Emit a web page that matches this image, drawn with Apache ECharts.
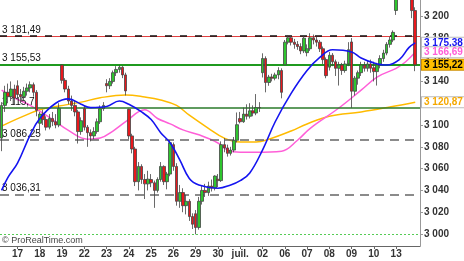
<!DOCTYPE html>
<html>
<head>
<meta charset="utf-8">
<script src="https://cdn.jsdelivr.net/npm/echarts@6/dist/echarts.min.js"></script>
<style>
  html, body { margin: 0; padding: 0; background: #fff; }
  #chart { width: 464px; height: 261px; }
</style>
</head>
<body>
<div id="chart"></div>
<script>
// day labels and the slot where each trading day starts (hourly bars)
const dayLabels = ['16', '17', '18', '19', '22', '23', '24', '25', '26', '29', '30', 'juil.', '02', '06', '07', '08', '09', '10', '13']
const dayStarts = [0, 5, 12, 19, 26, 33, 40, 47, 54, 61, 68, 75, 82, 89, 96, 103, 110, 117, 124]
const slotCount = 132

// [open, close, low, high]
const candles = [
  // 16
  [3088, 3118, 3076, 3121], [3118, 3130, 3112, 3136], [3130, 3126, 3120, 3138], [3126, 3133, 3122, 3140], [3133, 3124.7, 3119, 3137],
  // 17
  [3136, 3128, 3124, 3141], [3128, 3126, 3120, 3133], [3126, 3131, 3122, 3135], [3131, 3134, 3127, 3138], [3134, 3137, 3130, 3140], [3137, 3130, 3126, 3139], [3130, 3113.5, 3108, 3132],
  // 18
  [3101.6, 3110, 3093.5, 3112], [3110, 3105, 3100, 3114], [3105, 3098, 3095, 3108], [3098, 3106, 3096, 3110], [3106, 3103, 3099, 3112], [3103, 3100, 3097, 3110], [3100, 3115.3, 3098, 3120],
  // 19
  [3155, 3141, 3138, 3155.5], [3141, 3133, 3130, 3143], [3133, 3122, 3119, 3136], [3122, 3118, 3113, 3127], [3118, 3112, 3108, 3122], [3112, 3094, 3083, 3114], [3094, 3104, 3091, 3107],
  // 22
  [3115, 3098, 3095, 3118], [3098, 3093, 3080, 3100], [3093, 3090, 3085, 3096], [3090, 3094, 3087, 3098], [3094, 3103, 3092, 3106], [3103, 3115, 3101, 3118], [3115, 3118, 3113, 3121],
  // 23
  [3138, 3136, 3130, 3142], [3136, 3140, 3133, 3143], [3140, 3148, 3138, 3150], [3148, 3151, 3145, 3154], [3151, 3153, 3148, 3154.9], [3153, 3146, 3143, 3154], [3146, 3131.3, 3127.1, 3148],
  // 24
  [3114.4, 3090, 3087, 3115], [3090, 3078, 3074, 3092], [3078, 3048, 3044, 3080], [3048, 3062, 3040, 3066], [3062, 3050, 3046, 3064], [3050, 3046, 3032.1, 3055], [3046, 3050.3, 3040, 3058],
  // 25
  [3050, 3047, 3043, 3055], [3047, 3040, 3024, 3049], [3040, 3050, 3038, 3052], [3050, 3062, 3048, 3066], [3062, 3048, 3045, 3063], [3048, 3055, 3041, 3057], [3055, 3083.8, 3053, 3086.2],
  // 26
  [3082, 3062, 3058, 3084], [3062, 3030, 3026, 3065], [3030, 3038, 3024, 3045], [3038, 3026, 3020, 3042], [3026, 3030, 3018, 3036], [3030, 3016, 3012, 3032], [3016, 3009, 3004.6, 3019],
  // 29
  [3018.6, 3006, 2999.7, 3022], [3006, 3030, 3004, 3034], [3030, 3040, 3027, 3044], [3040, 3038, 3034, 3046], [3038, 3044, 3035, 3048], [3044, 3042, 3039, 3050], [3042, 3053.2, 3040, 3053.9],
  // 30
  [3050.2, 3049, 3043, 3055], [3049, 3082, 3047.8, 3085], [3082, 3079, 3075, 3088], [3079, 3074, 3071, 3082], [3074, 3077, 3072, 3080], [3077, 3086, 3075, 3089], [3086, 3100.3, 3084, 3111.5],
  // juil. 01
  [3105.9, 3103, 3101.5, 3112], [3103, 3110, 3102, 3116], [3110, 3108, 3105, 3119], [3108, 3113, 3106, 3120], [3113, 3111, 3108, 3118], [3111, 3116, 3109, 3128.4], [3116, 3115.9, 3112, 3121],
  // 02
  [3148, 3161, 3143.6, 3165.8], [3161, 3139, 3130, 3163], [3139, 3144, 3136, 3146], [3144, 3143, 3140, 3147], [3143, 3146, 3141, 3148], [3146, 3150, 3142, 3153], [3150, 3130, 3124.5, 3152],
  // 06
  [3155.3, 3176, 3155.3, 3178], [3176, 3180, 3174, 3182.6], [3180, 3176, 3173, 3182], [3176, 3174, 3170, 3179], [3174, 3172, 3169, 3177], [3172, 3168, 3165, 3175], [3168, 3179.7, 3166, 3182],
  // 07
  [3166.4, 3170, 3163, 3174], [3170, 3180, 3168, 3184.2], [3180, 3178, 3174, 3183], [3178, 3176, 3172, 3181], [3176, 3170, 3167, 3178], [3170, 3160, 3156, 3172], [3160, 3145.3, 3142.9, 3162],
  // 08
  [3153.1, 3164, 3150, 3167], [3164, 3158, 3154, 3166], [3158, 3152, 3145, 3160], [3152, 3155, 3136.2, 3158], [3155, 3150, 3146, 3157], [3150, 3156, 3148, 3159], [3156, 3169.1, 3154, 3176],
  // 09
  [3176.2, 3131, 3115.7, 3179.8], [3131, 3143, 3127, 3145], [3143, 3148, 3137, 3150], [3148, 3155, 3145, 3158], [3155, 3152, 3149, 3158], [3152, 3156, 3149, 3159], [3156, 3152.1, 3148, 3160],
  // 10
  [3152.5, 3149, 3140, 3158], [3149, 3155, 3136.2, 3157], [3155, 3161, 3152, 3164], [3161, 3166, 3158, 3169], [3166, 3174, 3164, 3176], [3174, 3178, 3171, 3181], [3178, 3185, 3176, 3186.8],
  // 13
  [3205.1, 3218, 3201, 3222], [3218, 3226, 3216, 3230], [3226, 3233, 3222, 3235.3], [3233, 3228, 3224, 3235], [3228, 3222, 3218, 3230], [3222, 3205, 3198, 3224], [3205, 3155.22, 3149.4, 3208]
]

// moving averages read at a few slots: [slot, value]
const maBlue = [
  [0, 3040], [2, 3052], [5, 3065], [9, 3091], [12, 3106], [17, 3120], [21, 3124], [25, 3119], [28, 3116], [33, 3117], [37, 3122],
  [40, 3119], [44, 3112], [47, 3105], [50, 3093], [53, 3083.5], [56, 3068], [59, 3051], [62, 3045], [68, 3042], [72, 3045],
  [75, 3049], [78, 3056], [82, 3077], [86, 3103], [91, 3129], [96, 3150], [100, 3162], [104, 3169], [110, 3167], [113, 3161.5],
  [117, 3157], [121, 3155], [125, 3160], [128, 3171], [130, 3175.38]
]
const maPink = [
  [0, 3132], [4, 3125], [9, 3118], [16, 3105], [21, 3095], [27, 3087], [31, 3088], [35, 3094.5], [39, 3103], [45, 3114],
  [49, 3106], [53, 3101], [57, 3095.5], [62, 3091], [68, 3083.5], [71, 3077], [75, 3075], [80, 3075], [88, 3076], [93, 3086],
  [97, 3097], [106, 3115.6], [113, 3132], [118, 3144], [124, 3152], [127, 3158], [130, 3166.69]
]
const maOrange = [
  [0, 3099], [6, 3107], [12, 3114], [18, 3117.4], [25, 3121], [31, 3125], [39, 3127.5], [45, 3125.7], [50, 3123], [55, 3118],
  [59, 3109], [65, 3097], [70, 3088], [75, 3084.5], [80, 3084.5], [84, 3087], [91, 3094.5], [96, 3101], [103, 3108], [113, 3112],
  [122, 3116.5], [130, 3120.87]
]

// horizontal levels
const levels = [3181.49, 3155.53, 3115.7, 3086.25, 3036.31]
const levelTexts = ['3 181,49', '3 155,53', '3 115,7', '3 086,25', '3 036,31']
const lastClose = 3155.22

const categories = []
for (let i = 0; i < slotCount; i++) {
  let d = 0
  while (d + 1 < dayStarts.length && dayStarts[d + 1] <= i) d++
  categories.push(dayLabels[d] + '|' + (i - dayStarts[d]))
}

const fmtPrice = v => {
  const s = v.toFixed(2).replace('.', ',')
  return s.slice(0, 1) + ' ' + s.slice(1)
}
const fmtTick = v => Math.floor(v / 1000) + ' ' + String(Math.round(v % 1000)).padStart(3, '0')

const isDayStart = i => dayStarts.indexOf(i) > 0

const leftLabel = text => ({
  show: true,
  position: 'insideStartTop',
  formatter: text,
  color: '#111',
  fontSize: 10,
  fontFamily: 'Liberation Sans, Arial, sans-serif',
  distance: [2, 1]
})

const priceTag = (value, color, bg, border) => ({
  yAxis: value,
  lineStyle: { color: 'rgba(0,0,0,0)', width: 0 },
  label: {
    show: true,
    position: 'end',
    distance: 2,
    formatter: fmtPrice(value),
    color: color,
    backgroundColor: bg,
    borderColor: border,
    borderWidth: 1,
    padding: [0, 2, 0, 2],
    lineHeight: 10,
    fontSize: 10,
    fontWeight: 'bold',
    fontFamily: 'Liberation Sans, Arial, sans-serif'
  }
})

const chart = echarts.init(document.getElementById('chart'))

const option = {
  animation: false,
  backgroundColor: '#fff',
  grid: { left: 0, right: 44, top: 0, bottom: 15 },
  xAxis: {
    type: 'category',
    data: categories,
    boundaryGap: true,
    axisLine: { lineStyle: { color: '#666' } },
    axisTick: { show: true, interval: isDayStart, alignWithLabel: true, length: 3, lineStyle: { color: '#666' } },
    axisLabel: {
      interval: isDayStart,
      formatter: v => v.split('|')[0],
      color: '#333',
      fontSize: 10,
      fontWeight: 'bold',
      fontFamily: 'Liberation Sans, Arial, sans-serif',
      margin: 3
    },
    splitLine: { show: false }
  },
  yAxis: {
    type: 'value',
    position: 'right',
    min: 2989,
    max: 3214.7,
    splitNumber: 11,
    axisLine: { show: true, lineStyle: { color: '#999' } },
    axisTick: { show: true, length: 3, lineStyle: { color: '#999' } },
    axisLabel: {
      showMinLabel: false,
      showMaxLabel: false,
      formatter: fmtTick,
      color: '#333',
      fontSize: 10,
      fontWeight: 'bold',
      fontFamily: 'Liberation Sans, Arial, sans-serif',
      margin: 4
    },
    splitLine: { show: false }
  },
  graphic: [
    {
      type: 'text',
      left: 2,
      top: 236,
      style: { text: '© ProRealTime.com', fill: '#444', fontSize: 9, fontFamily: 'Liberation Sans, Arial, sans-serif' }
    }
  ],
  series: [
    {
      name: 'MA orange',
      type: 'line',
      data: maOrange,
      smooth: 0.4,
      showSymbol: false,
      z: 1,
      lineStyle: { color: '#ffbb00', width: 1.5 },
      markLine: { silent: true, symbol: 'none', z: 5, data: [priceTag(3120.87, '#f5a800', '#fff', '#bbb')] }
    },
    {
      name: 'MA bleu',
      type: 'line',
      data: maBlue,
      smooth: 0.4,
      showSymbol: false,
      z: 4,
      lineStyle: { color: '#1414f0', width: 1.6 },
      markLine: { silent: true, symbol: 'none', z: 6, data: [priceTag(3175.38, '#1414f0', '#fff', '#bbb')] }
    },
    {
      name: 'MA rose',
      type: 'line',
      data: maPink,
      smooth: 0.4,
      showSymbol: false,
      z: 1,
      lineStyle: { color: '#ff5fd8', width: 1.5 },
      markLine: { silent: true, symbol: 'none', z: 7, data: [priceTag(3166.69, '#ff5fd8', '#fff', '#bbb')] }
    },
    {
      name: 'SPX',
      type: 'candlestick',
      data: candles,
      barWidth: 3,
      clip: true,
      z: 3,
      itemStyle: {
        color: '#2ec52e',
        color0: '#e8181c',
        borderColor: '#444',
        borderColor0: '#444',
        borderWidth: 0.8
      },
      markLine: {
        silent: true,
        symbol: 'none',
        z: 2,
        data: [
          { yAxis: 3000, lineStyle: { color: '#55cc55', type: [2, 2], width: 1 }, label: { show: false } },
          { yAxis: levels[0], lineStyle: { color: '#e04040', type: 'solid', width: 1 }, label: { show: false } },
          { yAxis: levels[0], lineStyle: { color: '#111', type: [7, 8], width: 1.5 }, label: leftLabel(levelTexts[0]) },
          { yAxis: levels[1], lineStyle: { color: '#1f9a1f', type: 'solid', width: 2 }, label: leftLabel(levelTexts[1]) },
          { yAxis: levels[2], lineStyle: { color: '#2a7a2a', type: 'solid', width: 1.5 }, label: leftLabel(levelTexts[2]) },
          { yAxis: levels[3], lineStyle: { color: '#666', type: [9, 6], width: 1.5 }, label: leftLabel(levelTexts[3]) },
          { yAxis: levels[4], lineStyle: { color: '#666', type: [9, 6], width: 1.5 }, label: leftLabel(levelTexts[4]) },
          priceTag(lastClose, '#000', '#ffc000', '#d09000')
        ]
      }
    }
  ]
}

chart.setOption(option)
</script>
</body>
</html>
